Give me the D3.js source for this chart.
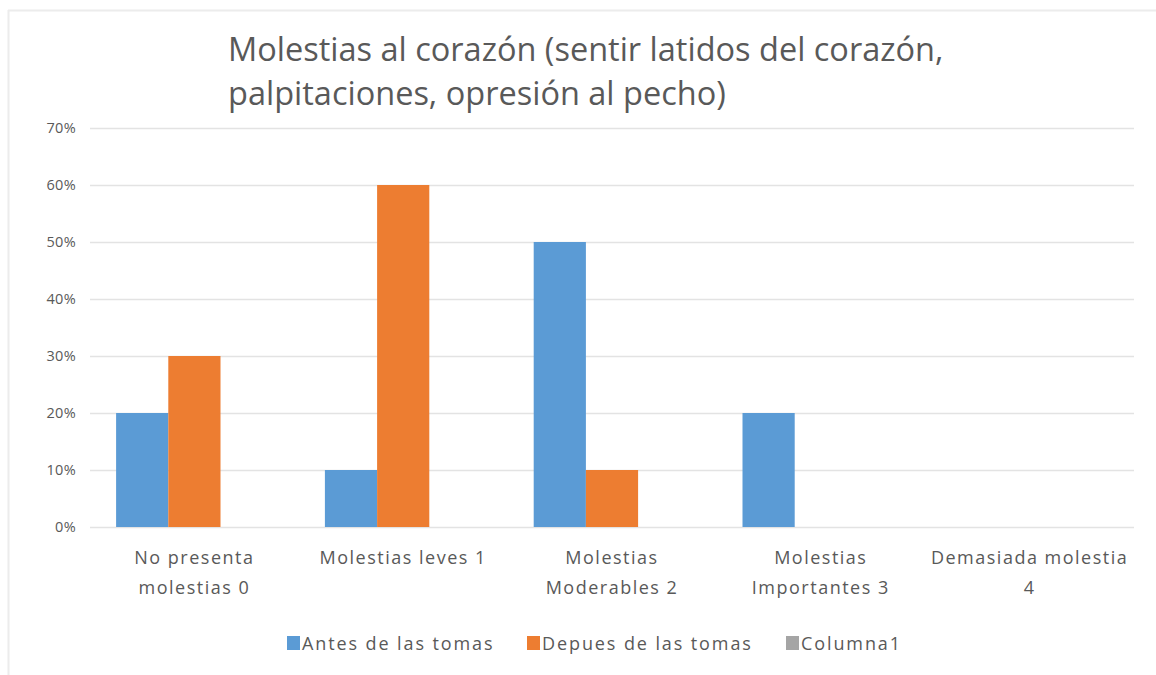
<!DOCTYPE html>
<html>
<head>
<meta charset="utf-8">
<script src="https://cdn.jsdelivr.net/npm/d3@7/dist/d3.min.js"></script>
<style>
 body{margin:0;background:#fff;}
 svg{display:block;font-family:"Open Sans",Calibri,sans-serif;}
</style>
</head>
<body>
<div id="chart"></div>
<script>
const categories=[['No presenta','molestias 0'],['Molestias leves 1'],['Molestias','Moderables 2'],['Molestias','Importantes 3'],['Demasiada molestia','4']];
const seriesNames=['Antes de las tomas','Depues de las tomas','Columna1'];
const antes=[0.20,0.10,0.50,0.20,0];
const despues=[0.30,0.60,0.10,0,0];
const columna1=[0,0,0,0,0];
const yTicks=[0,0.1,0.2,0.3,0.4,0.5,0.6,0.7];
const colors=['#5B9BD5','#ED7D31','#A5A5A5'];
const titleLines=['Molestias al corazón (sentir latidos del corazón,','palpitaciones, opresión al pecho)'];

(function(){
const W=1156,H=675,font='"Open Sans",Calibri,sans-serif';
const svg=d3.select('#chart').append('svg').attr('width',W).attr('height',H);
// chart frame (only top and left visible in the crop)
svg.append('line').attr('x1',8).attr('x2',W).attr('y1',10.5).attr('y2',10.5).attr('stroke','#ececec').attr('stroke-width',2);
svg.append('line').attr('x1',8.5).attr('x2',8.5).attr('y1',10).attr('y2',H).attr('stroke','#ececec').attr('stroke-width',2);

const pl=90,pr=1134,pt=128,pb=527;
const keys=categories.map((d,i)=>i);
const x0=d3.scaleBand().domain(keys).range([pl,pr]).padding(0);
const x1=d3.scaleBand().domain(seriesNames).range([0,x0.bandwidth()]).paddingInner(0).paddingOuter(0.5);
const y=d3.scaleLinear().domain([0,0.7]).range([pb,pt]);

// gridlines + y labels
const yAxis=d3.axisLeft(y).tickValues(yTicks).tickFormat(d3.format('.0%')).tickSize(-(pr-pl)).tickPadding(14);
const ga=svg.append('g').attr('transform',`translate(${pl},0)`).call(yAxis).attr('font-family',font);
ga.select('.domain').remove();
ga.selectAll('.tick line').attr('stroke','#e3e3e3').attr('stroke-width',1.5);
ga.selectAll('.tick text').attr('fill','#595959').style('font-size','14.5px').style('letter-spacing','0.3px');

// bars
const data=categories.map((c,i)=>({i,vals:[antes[i],despues[i],columna1[i]]}));
const grp=svg.append('g').selectAll('g').data(data).enter().append('g').attr('transform',d=>`translate(${x0(d.i)},0)`);
grp.selectAll('rect').data(d=>d.vals.map((v,k)=>({k,v}))).enter().append('rect')
 .attr('x',d=>x1(seriesNames[d.k])).attr('width',x1.bandwidth())
 .attr('y',d=>y(d.v)).attr('height',d=>pb-y(d.v)).attr('fill',d=>colors[d.k]);

// x labels
const xl=svg.append('g').selectAll('text').data(categories).enter().append('text')
 .attr('x',(d,i)=>x0(i)+x0.bandwidth()/2).attr('y',564).attr('text-anchor','middle')
 .attr('fill','#595959').style('font-size','18px').style('letter-spacing','1.5px');
xl.selectAll('tspan').data(d=>d).enter().append('tspan')
 .attr('x',function(){return this.parentNode.getAttribute('x');}).attr('dy',(d,i)=>i?30:0).text(d=>d);

// title
svg.append('g').selectAll('text').data(titleLines).enter().append('text')
 .attr('x',228).attr('y',(d,i)=>61+i*44).attr('fill','#595959').style('font-size','32.5px').text(d=>d);

// legend
const legX=[287,527,786];
const lg=svg.append('g').selectAll('g').data(seriesNames).enter().append('g').attr('transform',(d,i)=>`translate(${legX[i]},636)`);
lg.append('rect').attr('width',13).attr('height',14).attr('fill',(d,i)=>colors[i]);
lg.append('text').attr('x',15).attr('y',14).attr('fill','#595959').style('font-size','18px').style('letter-spacing','1.9px').text(d=>d);
})();
</script>
</body>
</html>
